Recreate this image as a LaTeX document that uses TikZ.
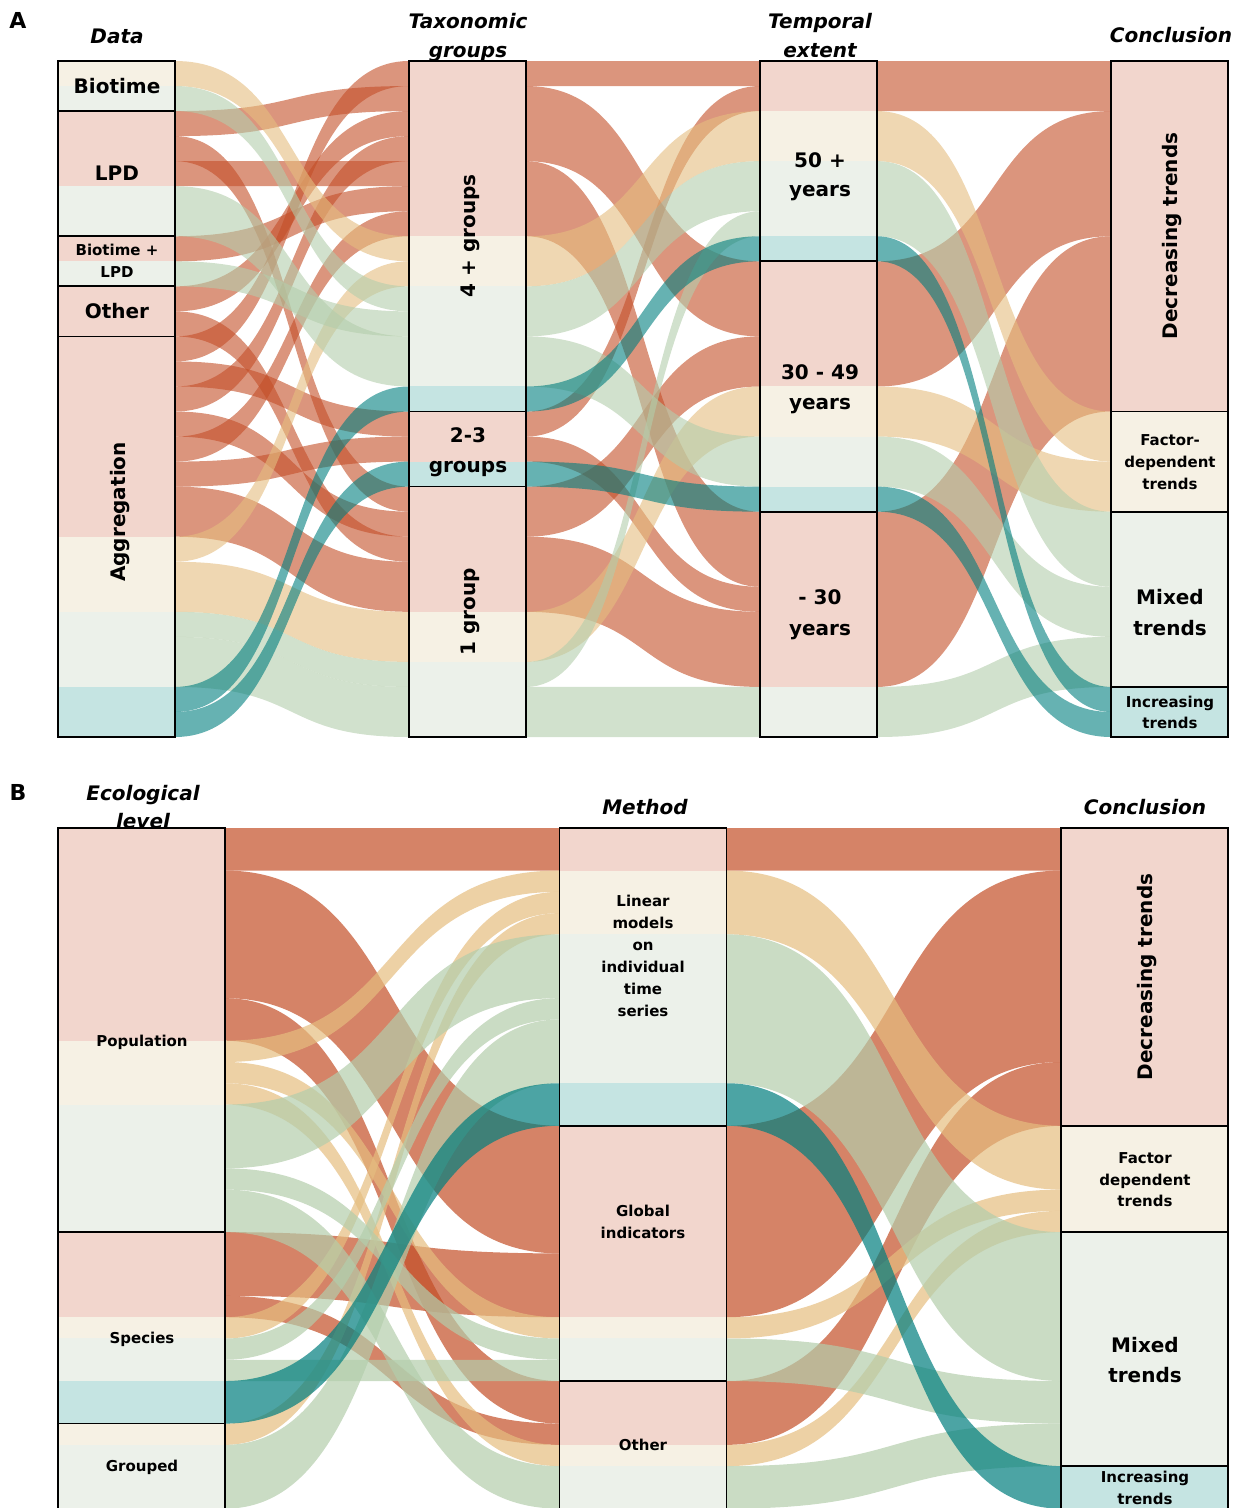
\documentclass[tikz,border=0pt]{standalone}
\usepackage{fontspec}
\setmainfont{DejaVu Sans}
\definecolor{cRed}{RGB}{195,78,39}
\definecolor{cBei}{RGB}{229,189,127}
\definecolor{cGrn}{RGB}{179,205,171}
\definecolor{cTea}{RGB}{0,126,126}
\definecolor{bRed}{RGB}{242,214,205}
\definecolor{bBei}{RGB}{246,241,228}
\definecolor{bGrn}{RGB}{236,241,234}
\definecolor{bTea}{RGB}{197,228,226}
% generic band: x1 x2 y0 u slotL slotR n style
\newcommand{\myband}[8]{%
  \pgfmathsetmacro{\mbYa}{#3+#4*#5}%
  \pgfmathsetmacro{\mbYb}{#3+#4*#6}%
  \pgfmathsetmacro{\mbYc}{#3+#4*(#5+#7)}%
  \pgfmathsetmacro{\mbYd}{#3+#4*(#6+#7)}%
  \pgfmathsetmacro{\mbXa}{#1+0.55*(#2-#1)}%
  \pgfmathsetmacro{\mbXb}{#2-0.55*(#2-#1)}%
  \fill[#8] (#1,\mbYa) .. controls (\mbXa,\mbYa) and (\mbXb,\mbYb) .. (#2,\mbYb)
    -- (#2,\mbYd) .. controls (\mbXb,\mbYd) and (\mbXa,\mbYc) .. (#1,\mbYc) -- cycle;%
}
% panel A flow: gap slotL slotR n colour
\newcommand{\fA}[5]{%
  \pgfmathsetmacro{\gAx}{175+351*(#1-1)}%
  \pgfmathsetmacro{\gAy}{\gAx+234}%
  \myband{\gAx}{\gAy}{61}{25.037}{#2}{#3}{#4}{fill=#5,fill opacity=0.6}}
% panel B flow
\newcommand{\fB}[5]{%
  \pgfmathsetmacro{\gBx}{225+502*(#1-1)}%
  \pgfmathsetmacro{\gBy}{\gBx+334.5}%
  \myband{\gBx}{\gBy}{828}{21.27}{#2}{#3}{#4}{fill=#5,fill opacity=0.7}}
% segments and outlines
\newcommand{\sA}[4]{\fill[#4] ({58+351*(#1-1)},{61+25.037*#2}) rectangle ({175+351*(#1-1)},{61+25.037*#3});}
\newcommand{\oA}[3]{\draw[boxline] ({58+351*(#1-1)},{61+25.037*#2}) rectangle ({175+351*(#1-1)},{61+25.037*#3});}
\newcommand{\sB}[4]{\fill[#4] ({58+501.5*(#1-1)},{828+21.27*#2}) rectangle ({225+501.5*(#1-1)},{828+21.27*#3});}
\newcommand{\oB}[3]{\draw[boxline] ({58+501.5*(#1-1)},{828+21.27*#2}) rectangle ({225+501.5*(#1-1)},{828+21.27*#3});}
\begin{document}
\begin{tikzpicture}[x=1pt,y=-1pt,
  boxline/.style={draw=black,line width=1.7pt},
  hdr/.style={font=\fontsize{20}{24}\selectfont\bfseries\itshape,inner sep=0pt,anchor=base},
  plab/.style={font=\fontsize{22}{26}\selectfont\bfseries,inner sep=0pt,anchor=base},
  big/.style={font=\fontsize{20}{24}\selectfont\bfseries,inner sep=0pt,text height=14.6pt,text depth=0pt},
  sml/.style={font=\fontsize{15}{18}\selectfont\bfseries,inner sep=0pt,text height=11pt,text depth=0pt}]
\useasboundingbox (0,0) rectangle (1242,1508);
\begin{scope}
\clip (0,0) rectangle (1242,1508);
% ---------------- Panel A strata fills
\sA{1}{0}{1}{bBei}\sA{1}{1}{2}{bGrn}\sA{1}{2}{5}{bRed}\sA{1}{5}{7}{bGrn}\sA{1}{7}{8}{bRed}\sA{1}{8}{9}{bGrn}
\sA{1}{9}{11}{bRed}\sA{1}{11}{19}{bRed}\sA{1}{19}{22}{bBei}\sA{1}{22}{25}{bGrn}\sA{1}{25}{27}{bTea}
\sA{2}{0}{7}{bRed}\sA{2}{7}{9}{bBei}\sA{2}{9}{13}{bGrn}\sA{2}{13}{14}{bTea}\sA{2}{14}{16}{bRed}\sA{2}{16}{17}{bTea}
\sA{2}{17}{22}{bRed}\sA{2}{22}{24}{bBei}\sA{2}{24}{27}{bGrn}
\sA{3}{0}{2}{bRed}\sA{3}{2}{4}{bBei}\sA{3}{4}{7}{bGrn}\sA{3}{7}{8}{bTea}\sA{3}{8}{13}{bRed}\sA{3}{13}{15}{bBei}
\sA{3}{15}{17}{bGrn}\sA{3}{17}{18}{bTea}\sA{3}{18}{25}{bRed}\sA{3}{25}{27}{bGrn}
\sA{4}{0}{14}{bRed}\sA{4}{14}{18}{bBei}\sA{4}{18}{25}{bGrn}\sA{4}{25}{27}{bTea}
% ---------------- Panel A flows, gap 1
\fA{1}{2}{1}{1}{cRed}\fA{1}{3}{17}{1}{cRed}\fA{1}{4}{4}{1}{cRed}\fA{1}{7}{5}{1}{cRed}
\fA{1}{9}{2}{1}{cRed}\fA{1}{10}{19}{1}{cRed}\fA{1}{11}{0}{1}{cRed}\fA{1}{12}{14}{1}{cRed}
\fA{1}{13}{3}{1}{cRed}\fA{1}{14}{18}{1}{cRed}\fA{1}{15}{6}{1}{cRed}\fA{1}{16}{15}{1}{cRed}
\fA{1}{17}{20}{2}{cRed}
\fA{1}{0}{7}{1}{cBei}\fA{1}{19}{8}{1}{cBei}\fA{1}{20}{22}{2}{cBei}
\fA{1}{1}{9}{1}{cGrn}\fA{1}{5}{11}{2}{cGrn}\fA{1}{8}{10}{1}{cGrn}\fA{1}{22}{24}{1}{cGrn}\fA{1}{23}{25}{2}{cGrn}
\fA{1}{25}{13}{1}{cTea}\fA{1}{26}{16}{1}{cTea}
% gap 2
\fA{2}{0}{0}{1}{cRed}\fA{2}{1}{8}{3}{cRed}\fA{2}{4}{18}{3}{cRed}\fA{2}{14}{1}{1}{cRed}
\fA{2}{15}{21}{1}{cRed}\fA{2}{17}{11}{2}{cRed}\fA{2}{19}{22}{3}{cRed}
\fA{2}{7}{2}{2}{cBei}\fA{2}{22}{13}{2}{cBei}
\fA{2}{9}{4}{2}{cGrn}\fA{2}{11}{15}{2}{cGrn}\fA{2}{24}{6}{1}{cGrn}\fA{2}{25}{25}{2}{cGrn}
\fA{2}{13}{7}{1}{cTea}\fA{2}{16}{17}{1}{cTea}
% gap 3
\fA{3}{0}{0}{2}{cRed}\fA{3}{8}{2}{5}{cRed}\fA{3}{18}{7}{7}{cRed}
\fA{3}{2}{14}{2}{cBei}\fA{3}{13}{16}{2}{cBei}
\fA{3}{4}{18}{3}{cGrn}\fA{3}{15}{21}{2}{cGrn}\fA{3}{25}{23}{2}{cGrn}
\fA{3}{7}{25}{1}{cTea}\fA{3}{17}{26}{1}{cTea}
% outlines A
\oA{1}{0}{2}\oA{1}{2}{7}\oA{1}{7}{9}\oA{1}{9}{11}\oA{1}{11}{27}
\oA{2}{0}{14}\oA{2}{14}{17}\oA{2}{17}{27}
\oA{3}{0}{8}\oA{3}{8}{18}\oA{3}{18}{27}
\oA{4}{0}{14}\oA{4}{14}{18}\oA{4}{18}{25}\oA{4}{25}{27}
% ---------------- Panel B strata fills
\sB{1}{0}{10}{bRed}\sB{1}{10}{13}{bBei}\sB{1}{13}{19}{bGrn}\sB{1}{19}{23}{bRed}\sB{1}{23}{24}{bBei}
\sB{1}{24}{26}{bGrn}\sB{1}{26}{28}{bTea}\sB{1}{28}{29}{bBei}\sB{1}{29}{32}{bGrn}
\sB{2}{0}{2}{bRed}\sB{2}{2}{5}{bBei}\sB{2}{5}{12}{bGrn}\sB{2}{12}{14}{bTea}\sB{2}{14}{23}{bRed}
\sB{2}{23}{24}{bBei}\sB{2}{24}{26}{bGrn}\sB{2}{26}{29}{bRed}\sB{2}{29}{30}{bBei}\sB{2}{30}{32}{bGrn}
\sB{3}{0}{14}{bRed}\sB{3}{14}{19}{bBei}\sB{3}{19}{30}{bGrn}\sB{3}{30}{32}{bTea}
% Panel B flows gap 1
\fB{1}{0}{0}{2}{cRed}\fB{1}{2}{14}{6}{cRed}\fB{1}{8}{26}{2}{cRed}\fB{1}{19}{20}{3}{cRed}\fB{1}{22}{28}{1}{cRed}
\fB{1}{10}{2}{1}{cBei}\fB{1}{11}{23}{1}{cBei}\fB{1}{12}{29}{1}{cBei}\fB{1}{23}{3}{1}{cBei}\fB{1}{28}{4}{1}{cBei}
\fB{1}{13}{5}{3}{cGrn}\fB{1}{16}{24}{1}{cGrn}\fB{1}{17}{30}{2}{cGrn}\fB{1}{24}{8}{1}{cGrn}\fB{1}{25}{25}{1}{cGrn}\fB{1}{29}{9}{3}{cGrn}
\fB{1}{26}{12}{2}{cTea}
% gap 2
\fB{2}{0}{0}{2}{cRed}\fB{2}{14}{2}{9}{cRed}\fB{2}{26}{11}{3}{cRed}
\fB{2}{2}{14}{3}{cBei}\fB{2}{23}{17}{1}{cBei}\fB{2}{29}{18}{1}{cBei}
\fB{2}{5}{19}{7}{cGrn}\fB{2}{24}{26}{2}{cGrn}\fB{2}{30}{28}{2}{cGrn}
\fB{2}{12}{30}{2}{cTea}
% outlines B
\oB{1}{0}{19}\oB{1}{19}{28}\oB{1}{28}{32}
\oB{2}{0}{14}\oB{2}{14}{26}\oB{2}{26}{32}
\oB{3}{0}{14}\oB{3}{14}{19}\oB{3}{19}{30}\oB{3}{30}{32}
\end{scope}
% ---------------- texts panel A
\node[plab] (pA) at (18,28) {A};
\node[hdr] (hData) at (117,43.3) {Data};
\node[hdr] (hTaxa) at (468,28.3) {Taxonomic};
\node[hdr] (hTaxb) at (468,57) {groups};
\node[hdr] (hTema) at (820,28) {Temporal};
\node[hdr] (hTemb) at (820,57) {extent};
\node[hdr] (hCon) at (1171,42.7) {Conclusion};
\node[big] (lBio) at (117,86) {Biotime};
\node[big] (lLPD) at (117,173.5) {LPD};
\node[sml] (lBLa) at (117,250) {Biotime +};
\node[sml] (lBLb) at (117,272) {LPD};
\node[big] (lOth) at (117,311.5) {Other};
\node[big,rotate=90] (lAgg) at (118,512) {Aggregation};
\node[big,rotate=90] (lG4) at (468,236) {4 + groups};
\node[big] (lG2a) at (468,435) {2-3};
\node[big] (lG2b) at (468,465) {groups};
\node[big,rotate=90] (lG1) at (468,612) {1 group};
\node[big] (lT1a) at (820,160) {50 +};
\node[big] (lT1b) at (820,189) {years};
\node[big] (lT2a) at (820,372) {30 - 49};
\node[big] (lT2b) at (820,402) {years};
\node[big] (lT3a) at (820,597) {- 30};
\node[big] (lT3b) at (820,628) {years};
\node[big,rotate=90] (lDecA) at (1170,236) {Decreasing trends};
\node[sml] (lFa) at (1170,440) {Factor-};
\node[sml] (lFb) at (1170,462) {dependent};
\node[sml] (lFc) at (1170,484) {trends};
\node[big] (lMa) at (1170,597) {Mixed};
\node[big] (lMb) at (1170,628) {trends};
\node[sml] (lIa) at (1170,702) {Increasing};
\node[sml] (lIb) at (1170,723) {trends};
% ---------------- texts panel B
\node[plab] (pB) at (18,800) {B};
\node[hdr] (hEcoa) at (143,800) {Ecological};
\node[hdr] (hEcob) at (143,828) {level};
\node[hdr] (hMet) at (645,814) {Method};
\node[hdr] (hConB) at (1145,814) {Conclusion};
\node[sml] (lPop) at (142,1041) {Population};
\node[sml] (lSpe) at (142,1338) {Species};
\node[sml] (lGro) at (142,1466) {Grouped};
\node[sml] (lLa) at (643,901) {Linear};
\node[sml] (lLb) at (643,923) {models};
\node[sml] (lLc) at (643,945) {on};
\node[sml] (lLd) at (643,967) {individual};
\node[sml] (lLe) at (643,989) {time};
\node[sml] (lLf) at (643,1011) {series};
\node[sml] (lGla) at (643,1211) {Global};
\node[sml] (lGlb) at (643,1233) {indicators};
\node[sml] (lOtB) at (643,1445) {Other};
\node[big,rotate=90] (lDecB) at (1145,977) {Decreasing trends};
\node[sml] (lFBa) at (1145,1158) {Factor};
\node[sml] (lFBb) at (1145,1180) {dependent};
\node[sml] (lFBc) at (1145,1201) {trends};
\node[big] (lMBa) at (1145,1345) {Mixed};
\node[big] (lMBb) at (1145,1375) {trends};
\node[sml] (lIBa) at (1145,1477) {Increasing};
\node[sml] (lIBb) at (1145,1499) {trends};
\end{tikzpicture}
\end{document}
